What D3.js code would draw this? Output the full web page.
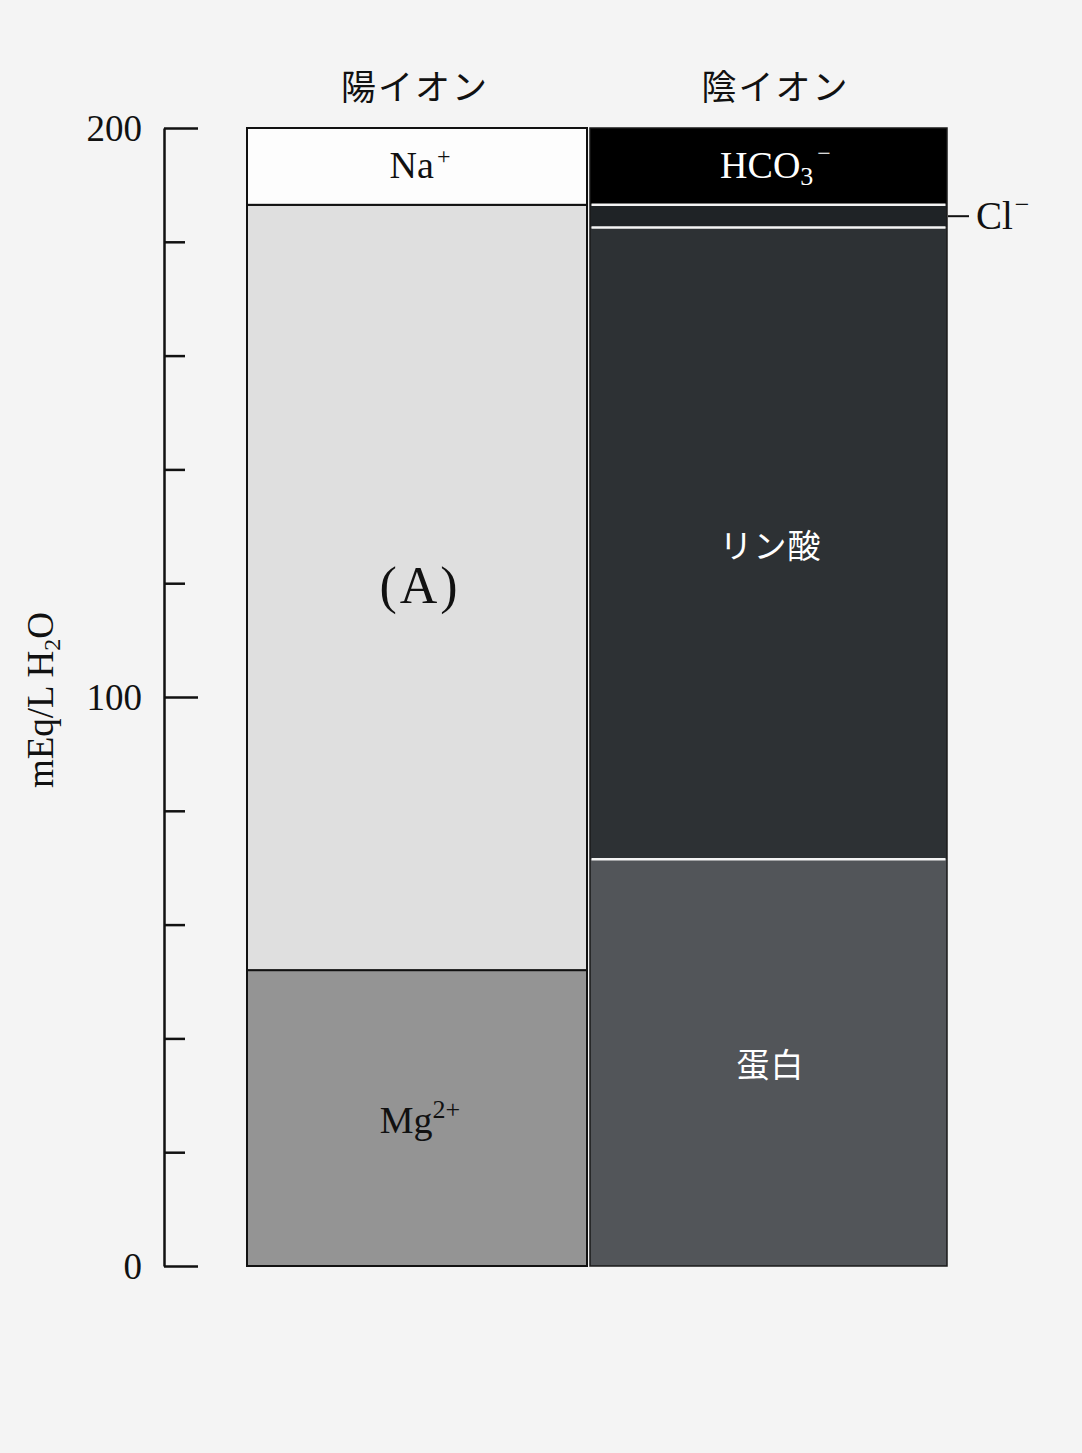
<!DOCTYPE html>
<html>
<head>
<meta charset="utf-8">
<script src="https://cdn.jsdelivr.net/npm/d3@7"></script>
<style>
  html, body { margin: 0; padding: 0; background: #f4f4f4; }
  svg { display: block; }
</style>
</head>
<body>
<svg id="chart" width="1082" height="1453"></svg>
<script>
// ---- data ----
const columns = ["陽イオン", "陰イオン"];
const cationNames = ["Mg2+", "(A)", "Na+"];
const cationValues = [52, 134.5, 13.5];
const anionNames = ["蛋白", "リン酸", "Cl-", "HCO3-"];
const anionValues = [71.5, 111, 4, 13.5];
const yTickValues = [0, 20, 40, 60, 80, 100, 120, 140, 160, 180, 200];
const yTickLabels = ["0", "100", "200"];
const yAxisTitle = "mEq/L H2O";

// ---- styles ----
const SERIF = "'Liberation Serif', 'Times New Roman', serif";
const CJK = "'Noto Sans CJK JP', 'Noto Sans CJK SC', sans-serif";
const fills = {
  "Mg2+": "#949494", "(A)": "#dfdfdf", "Na+": "#fdfdfd",
  "蛋白": "#525559", "リン酸": "#2d3134", "Cl-": "#1f2326", "HCO3-": "#000000"
};
const labelColor = {
  "Mg2+": "#111", "(A)": "#111", "Na+": "#111",
  "蛋白": "#fff", "リン酸": "#fff", "Cl-": "#fff", "HCO3-": "#fff"
};

const svg = d3.select("#chart");
svg.append("rect").attr("width", 1082).attr("height", 1453).attr("fill", "#f4f4f4");

const y = d3.scaleLinear().domain([0, 200]).range([1266, 128]);
const xLeft = d3.scaleOrdinal().domain(columns).range([247, 590]);
const xWidth = d3.scaleOrdinal().domain(columns).range([340, 357]);

function stackSegments(names, values) {
  let acc = 0;
  return names.map((n, i) => {
    const s = { name: n, y0: acc, y1: acc + values[i] };
    acc += values[i];
    return s;
  });
}
const cat = stackSegments(cationNames, cationValues);
const ani = stackSegments(anionNames, anionValues);

// ---- y axis ----
const axis = d3.axisRight(y).tickValues(yTickValues).tickSize(21).tickSizeOuter(0).tickFormat("");
const gAxis = svg.append("g").attr("transform", "translate(164,0)").call(axis);
gAxis.select(".domain").attr("stroke", "#111").attr("stroke-width", 2.5);
gAxis.selectAll(".tick line").attr("stroke", "#111").attr("stroke-width", 2.5)
  .attr("x2", d => (d % 100 === 0 ? 34 : 21));

svg.append("g").selectAll("text").data(yTickLabels).join("text")
  .attr("x", 142).attr("y", d => y(+d)).attr("dy", "0.35em")
  .attr("text-anchor", "end").attr("font-family", SERIF).attr("font-size", 37)
  .attr("fill", "#111").text(d => d);

// y axis title
const yt = svg.append("text")
  .attr("transform", "translate(53,700) rotate(-90)")
  .attr("text-anchor", "middle").attr("font-family", SERIF).attr("font-size", 37)
  .attr("fill", "#111");
yt.append("tspan").text("mEq/L H");
yt.append("tspan").attr("font-size", 24).attr("dy", 7).text("2");
yt.append("tspan").attr("dy", -7).text("O");

// ---- column titles ----
svg.append("g").selectAll("text").data(columns).join("text")
  .attr("x", d => xLeft(d) + xWidth(d) / 2 + (d === columns[0] ? -2 : 7))
  .attr("y", 87).attr("dy", "0.36em")
  .attr("text-anchor", "middle").attr("font-family", CJK).attr("font-size", 35)
  .attr("letter-spacing", 2)
  .attr("fill", "#111").text(d => d);

// ---- cation bar ----
const gc = svg.append("g");
gc.selectAll("rect").data(cat).join("rect")
  .attr("x", xLeft(columns[0])).attr("width", xWidth(columns[0]))
  .attr("y", d => y(d.y1)).attr("height", d => y(d.y0) - y(d.y1))
  .attr("fill", d => fills[d.name]).attr("stroke", "#111").attr("stroke-width", 2);

// ---- anion bar ----
const ga = svg.append("g");
const ax0 = xLeft(columns[1]), aw = xWidth(columns[1]);
ga.selectAll("rect").data(ani).join("rect")
  .attr("x", ax0).attr("width", aw)
  .attr("y", d => y(d.y1)).attr("height", d => y(d.y0) - y(d.y1))
  .attr("fill", d => fills[d.name]);
// white separators between anion segments
ga.selectAll("line.sep").data(ani.slice(0, -1)).join("line")
  .attr("class", "sep")
  .attr("x1", ax0 + 1.5).attr("x2", ax0 + aw - 1.5)
  .attr("y1", d => y(d.y1)).attr("y2", d => y(d.y1))
  .attr("stroke", "#f4f4f4").attr("stroke-width", 2.5);
ga.append("rect")
  .attr("x", ax0).attr("width", aw)
  .attr("y", y(200)).attr("height", y(0) - y(200))
  .attr("fill", "none").attr("stroke", "#1a1a1a").attr("stroke-width", 1.5);

// ---- labels ----
function addLabel(g, name, cx, cy, color) {
  const t = g.append("text").attr("x", cx).attr("y", cy).attr("text-anchor", "middle")
    .attr("fill", color).attr("font-family", SERIF).attr("font-size", 38);
  if (name === "Na+") {
    t.append("tspan").text("Na");
    t.append("tspan").attr("font-size", 24).attr("dy", -14).attr("dx", 3).text("+");
  } else if (name === "Mg2+") {
    t.append("tspan").text("Mg");
    t.append("tspan").attr("font-size", 26).attr("dy", -15).text("2+");
  } else if (name === "HCO3-") {
    t.append("tspan").text("HCO");
    t.append("tspan").attr("font-size", 26).attr("dy", 7).text("3");
    t.append("tspan").attr("font-size", 24).attr("dy", -24).attr("dx", 4).text("−");
  } else if (name === "(A)") {
    t.attr("font-size", 52).attr("letter-spacing", 3).text("(A)");
  } else {
    t.attr("font-family", CJK).attr("font-size", 33).attr("letter-spacing", 1).text(name);
  }
  return t;
}

const cLabelY = { "Na+": 178, "(A)": 603, "Mg2+": 1133 };
cat.forEach(d => addLabel(svg, d.name, xLeft(columns[0]) + xWidth(columns[0]) / 2 + 3, cLabelY[d.name], labelColor[d.name]));

const aLabelY = { "HCO3-": 178, "リン酸": 558, "蛋白": 1077 };
ani.forEach(d => {
  if (d.name === "Cl-") return;
  const dx = d.name === "HCO3-" ? 7 : 2;
  addLabel(svg, d.name, ax0 + aw / 2 + dx, aLabelY[d.name], labelColor[d.name]);
});

// Cl- callout
const cl = ani.find(d => d.name === "Cl-");
const clMid = y((cl.y0 + cl.y1) / 2);
svg.append("line").attr("x1", ax0 + aw + 1).attr("x2", ax0 + aw + 22)
  .attr("y1", clMid).attr("y2", clMid).attr("stroke", "#111").attr("stroke-width", 2);
const clt = svg.append("text").attr("x", 976).attr("y", clMid + 13)
  .attr("font-family", SERIF).attr("font-size", 39).attr("fill", "#111");
clt.append("tspan").text("Cl");
clt.append("tspan").attr("font-size", 26).attr("dy", -16).attr("dx", 2).text("−");
</script>
</body>
</html>
